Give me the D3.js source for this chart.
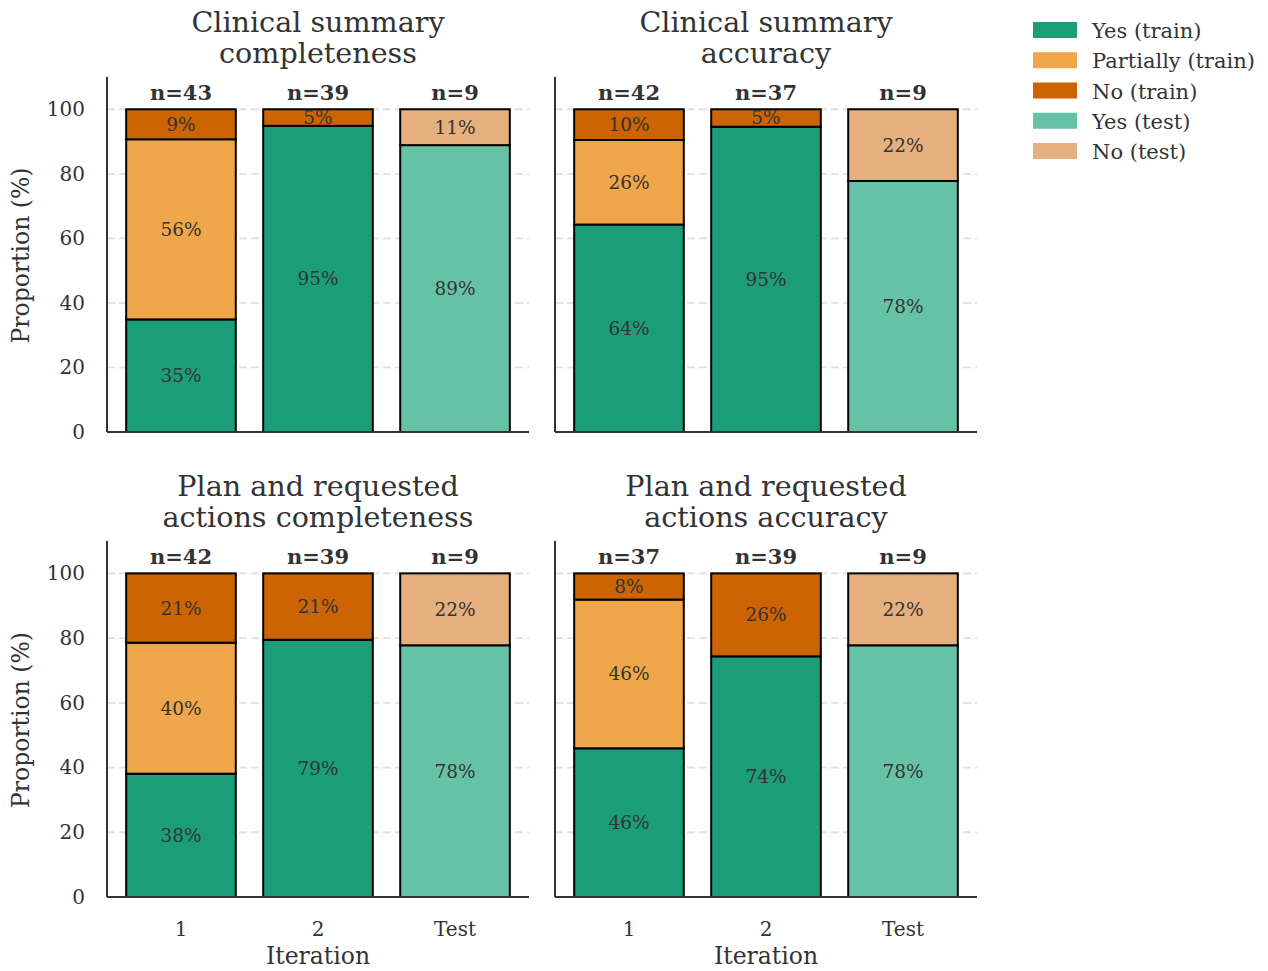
<!DOCTYPE html>
<html>
<head>
<meta charset="utf-8">
<script src="https://cdn.jsdelivr.net/npm/d3@7"></script>
<style>
  html, body { margin: 0; padding: 0; background: #ffffff; }
  svg { display: block; font-family: "DejaVu Serif", serif; }
</style>
</head>
<body>
<svg id="chart" width="1268" height="971"></svg>
<script>
// Iterations shown along the x axis of each panel
const iterations = ["1", "2", "Test"];

// Panel titles (two lines each)
const panelTitles = [
  ["Clinical summary", "completeness"],
  ["Clinical summary", "accuracy"],
  ["Plan and requested", "actions completeness"],
  ["Plan and requested", "actions accuracy"]
];

// Response counts per panel, per iteration: [yes, partially, no]
const summaryCompleteness = [[15, 24, 4], [37, 0, 2], [8, 0, 1]];
const summaryAccuracy     = [[27, 11, 4], [35, 0, 2], [7, 0, 2]];
const planCompleteness    = [[16, 17, 9], [31, 0, 8], [7, 0, 2]];
const planAccuracy        = [[17, 17, 3], [29, 0, 10], [7, 0, 2]];
const panelCounts = [summaryCompleteness, summaryAccuracy, planCompleteness, planAccuracy];

// Y axis ticks
const yTicks = [0, 20, 40, 60, 80, 100];

// Legend entries
const legendLabels = ["Yes (train)", "Partially (train)", "No (train)", "Yes (test)", "No (test)"];
const legendColors = ["#1b9e77", "#f0a64a", "#cc6404", "#66c2a5", "#e5b07e"];

const trainColors = { yes: "#1b9e77", partial: "#f0a64a", no: "#cc6404" };
const testColors  = { yes: "#66c2a5", no: "#e5b07e" };

const svg = d3.select("#chart");
const textColor = "#333333";

// Panel frames (axes boxes)
const panels = [
  { left: 107, right: 529, top: 77,  bottom: 432, row: 0, col: 0 },
  { left: 555, right: 977, top: 77,  bottom: 432, row: 0, col: 1 },
  { left: 107, right: 529, top: 541, bottom: 897, row: 1, col: 0 },
  { left: 555, right: 977, top: 541, bottom: 897, row: 1, col: 1 }
];

panels.forEach((p, pi) => {
  const g = svg.append("g");
  const x = d3.scaleBand().domain(iterations).range([p.left, p.right])
    .paddingInner(0.2).paddingOuter(0.14);
  const y = d3.scaleLinear().domain([0, 110]).range([p.bottom, p.top]);

  // dashed horizontal grid
  g.append("g").selectAll("line").data(yTicks).join("line")
    .attr("x1", p.left).attr("x2", p.right)
    .attr("y1", d => y(d)).attr("y2", d => y(d))
    .attr("stroke", "#e0e0e0").attr("stroke-width", 1.8)
    .attr("stroke-dasharray", "8,4");

  // stacked segments
  const counts = panelCounts[pi];
  const segs = [];
  const totals = [];
  iterations.forEach((it, i) => {
    const [yes, partial, no] = counts[i];
    const n = yes + partial + no;
    totals.push({ it, n });
    const isTest = it === "Test";
    const parts = isTest
      ? [{ v: yes, c: testColors.yes }, { v: no, c: testColors.no }]
      : [{ v: yes, c: trainColors.yes }, { v: partial, c: trainColors.partial }, { v: no, c: trainColors.no }];
    let acc = 0;
    parts.forEach(pt => {
      const pct = pt.v / n * 100;
      segs.push({ it, y0: acc, y1: acc + pct, pct, color: pt.c });
      acc += pct;
    });
  });

  g.append("g").selectAll("rect").data(segs.filter(s => s.pct > 0)).join("rect")
    .attr("x", d => x(d.it))
    .attr("width", x.bandwidth())
    .attr("y", d => y(d.y1))
    .attr("height", d => y(d.y0) - y(d.y1))
    .attr("fill", d => d.color)
    .attr("stroke", "#000000").attr("stroke-width", 2);

  // percentage labels
  g.append("g").selectAll("text").data(segs.filter(s => s.pct > 0)).join("text")
    .attr("x", d => x(d.it) + x.bandwidth() / 2)
    .attr("y", d => y((d.y0 + d.y1) / 2))
    .attr("text-anchor", "middle").attr("dominant-baseline", "central")
    .attr("font-size", 18.5).attr("fill", textColor)
    .text(d => Math.round(d.pct) + "%");

  // n labels
  g.append("g").selectAll("text").data(totals).join("text")
    .attr("x", d => x(d.it) + x.bandwidth() / 2)
    .attr("y", y(105) - 1)
    .attr("text-anchor", "middle").attr("dominant-baseline", "central")
    .attr("font-size", 21).attr("font-weight", "bold").attr("fill", textColor)
    .text(d => "n=" + d.n);

  // y axis tick labels on the left column
  if (p.col === 0) {
    const yAxis = g.append("g").attr("transform", `translate(${p.left},0)`)
      .call(d3.axisLeft(y).tickValues(yTicks).tickSize(0).tickPadding(22));
    yAxis.select(".domain").remove();
    yAxis.selectAll("text").attr("font-size", 20).attr("fill", textColor)
      .attr("font-family", "DejaVu Serif");
  }

  // spines
  g.append("line").attr("x1", p.left).attr("x2", p.left)
    .attr("y1", p.top).attr("y2", p.bottom)
    .attr("stroke", textColor).attr("stroke-width", 2);
  g.append("line").attr("x1", p.left).attr("x2", p.right)
    .attr("y1", p.bottom).attr("y2", p.bottom)
    .attr("stroke", textColor).attr("stroke-width", 2);

  // x axis labels on the bottom row
  if (p.row === 1) {
    const xAxis = g.append("g").attr("transform", `translate(0,${p.bottom})`)
      .call(d3.axisBottom(x).tickSize(0).tickPadding(25));
    xAxis.select(".domain").remove();
    xAxis.selectAll("text").attr("font-size", 20).attr("fill", textColor)
      .attr("font-family", "DejaVu Serif");
    g.append("text")
      .attr("x", (p.left + p.right) / 2).attr("y", 964)
      .attr("text-anchor", "middle")
      .attr("font-size", 23.5).attr("fill", textColor)
      .text("Iteration");
  }

  // y label on the left column
  if (p.col === 0) {
    const cy = (p.top + p.bottom) / 2 + 1;
    g.append("text")
      .attr("transform", `translate(21,${cy}) rotate(-90)`)
      .attr("text-anchor", "middle").attr("dominant-baseline", "central")
      .attr("font-size", 23.5).attr("fill", textColor)
      .text("Proportion (%)");
  }

  // title
  const cx = (p.left + p.right) / 2;
  const titleTop = p.top - 55;
  panelTitles[pi].forEach((line, li) => {
    g.append("text")
      .attr("x", cx).attr("y", titleTop + li * 31)
      .attr("text-anchor", "middle").attr("dominant-baseline", "central")
      .attr("font-size", 28.6).attr("fill", textColor)
      .text(line);
  });
});

// legend
const legend = svg.append("g");
const ly = d3.scalePoint().domain(legendLabels).range([30, 151]);
legend.selectAll("rect").data(legendLabels).join("rect")
  .attr("x", 1033).attr("y", d => ly(d) - 8)
  .attr("width", 44).attr("height", 16)
  .attr("fill", (d, i) => legendColors[i]);
legend.selectAll("text").data(legendLabels).join("text")
  .attr("x", 1092).attr("y", d => ly(d) + 1)
  .attr("dominant-baseline", "central")
  .attr("font-size", 21).attr("fill", textColor)
  .text(d => d);
</script>
</body>
</html>
